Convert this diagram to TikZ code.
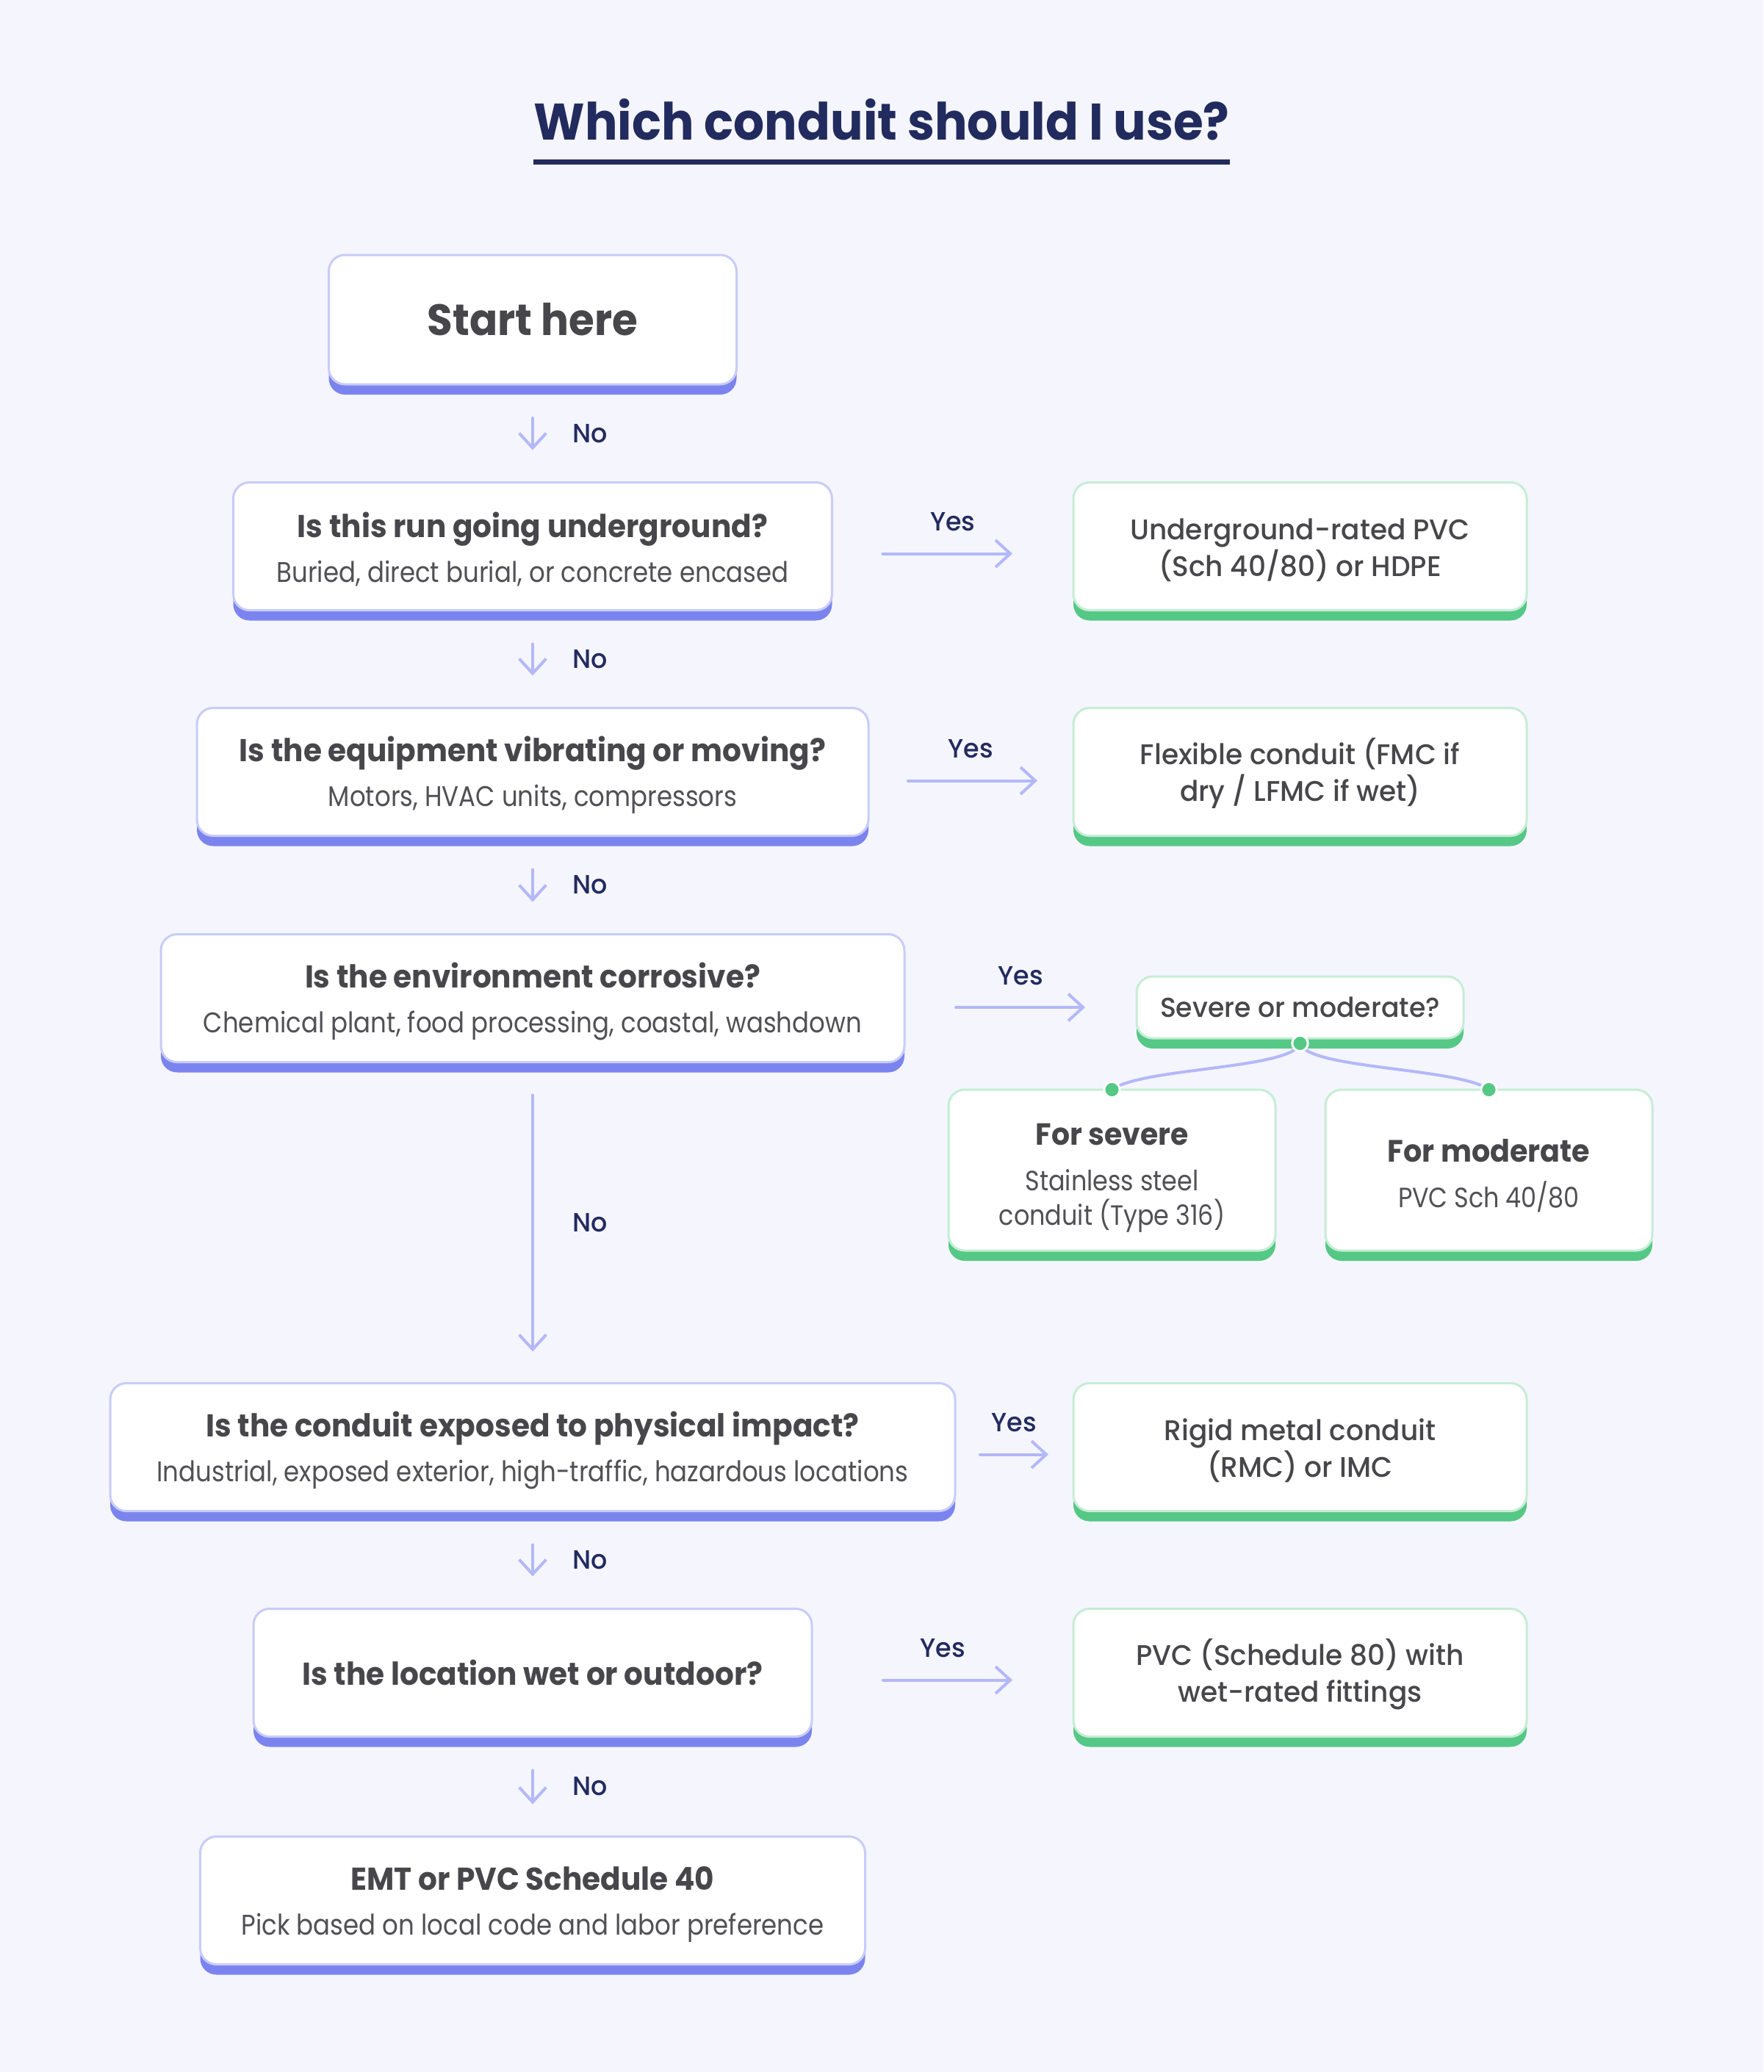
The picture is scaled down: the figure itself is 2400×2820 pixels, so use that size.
\documentclass[tikz,border=0pt]{standalone}
\usepackage{fontspec}
\setmainfont{Poppins}[FakeStretch=0.88, BoldFeatures={FakeStretch=0.945}]
\newfontfamily\medfont{Poppins}[UprightFont={* Medium}, FakeStretch=0.97]
\usetikzlibrary{arrows.meta,calc}
\definecolor{bg}{HTML}{F5F5FE}
\definecolor{qborder}{HTML}{C8CCF8}
\definecolor{qshadow}{HTML}{7B84EE}
\definecolor{rborder}{HTML}{C6EDD5}
\definecolor{rshadow}{HTML}{55C885}
\definecolor{arrowc}{HTML}{B3B8F8}
\definecolor{navy}{HTML}{222B5E}
\definecolor{ttext}{HTML}{47474B}
\definecolor{stext}{HTML}{505055}
\newcommand{\qq}[2]{{\rule{0pt}{13pt}\bfseries\fontsize{12.9}{18.3}\selectfont\color{ttext}#1}\\{\color{stext}#2}}
\begin{document}
\begin{tikzpicture}[x=0.3pt,y=-0.3pt,
  box/.style={rounded corners=6.6pt, fill=white, line width=0.9pt, outer sep=0pt, inner sep=0pt, align=center},
  qbox/.style={box, draw=qborder, preaction={fill=qshadow, transform canvas={yshift=-4.2pt}},
     font=\fontsize{11.6}{18.3}\selectfont, text=stext, minimum height=52.2pt},
  rbox/.style={box, draw=rborder, preaction={fill=rshadow, transform canvas={yshift=-4.2pt}},
     font=\medfont\fontsize{11.6}{15}\selectfont, text=ttext},
  resbox/.style={rbox, minimum width=185.1pt, minimum height=52.2pt},
  arr/.style={draw=arrowc, line width=1.2pt, line cap=round,
     -{Straight Barb[length=6pt,width=11pt,line width=1.2pt]}},
  conn/.style={draw=arrowc, line width=1.2pt},
  nolab/.style={font=\medfont\fontsize{10.8}{12}\selectfont, text=navy, inner sep=0pt},
  vno/.style={arr, shorten <=13.8pt, shorten >=13.2pt},
  dotc/.style={circle, fill=rshadow, draw=white, line width=0.9pt, minimum size=6.4pt, inner sep=0pt}
]
\fill[bg] (0,0) rectangle (2400,2820);
\useasboundingbox (0,0) rectangle (2400,2820);

% title
\node[font=\bfseries\fontsize{21}{26}\selectfont, text=navy, inner sep=0pt, anchor=base] (title) at (1200,190) {Which conduit should I use?};
\draw[navy, line width=2.1pt] ([yshift=-9pt]title.base west) -- ([yshift=-9pt]title.base east);

% left column
\node[qbox, minimum width=166.5pt, minimum height=52.8pt, font=\bfseries\fontsize{17.9}{20}\selectfont, text=ttext] (start) at (725,435) {Start here};
\node[qbox, minimum width=244.5pt] (q1) at (725,743.5) {\qq{Is this run going underground?}{Buried, direct burial, or concrete encased}};
\node[qbox, minimum width=274.2pt] (q2) at (725,1050.5) {\qq{Is the equipment vibrating or moving?}{Motors, HVAC units, compressors}};
\node[qbox, minimum width=303.6pt] (q3) at (725,1358.5) {\qq{Is the environment corrosive?}{Chemical plant, food processing, coastal, washdown}};
\node[qbox, minimum width=345pt] (q4) at (725,1969.5) {\qq{Is the conduit exposed to physical impact?}{Industrial, exposed exterior, high-traffic, hazardous locations}};
\node[qbox, minimum width=228pt, font=\bfseries\fontsize{12.9}{18.3}\selectfont, text=ttext] (q5) at (725,2276.5) {Is the location wet or outdoor?};
\node[qbox, minimum width=271.5pt] (q6) at (725,2586.5) {\qq{EMT or PVC Schedule 40}{Pick based on local code and labor preference}};

% results
\node[resbox] (r1) at (1769.5,743.5) {\rule{0pt}{12pt}Underground-rated PVC\\(Sch 40/80) or HDPE};
\node[resbox] (r2) at (1769.5,1050.5) {\rule{0pt}{12pt}Flexible conduit (FMC if\\dry / LFMC if wet)};
\node[resbox] (r3) at (1769.5,1969.5) {\rule{0pt}{12pt}Rigid metal conduit\\(RMC) or IMC};
\node[resbox] (r4) at (1769.5,2276.5) {\rule{0pt}{12pt}PVC (Schedule 80) with\\wet-rated fittings};

\node[rbox, minimum width=133.5pt, minimum height=25.2pt, font=\medfont\fontsize{11.2}{13}\selectfont] (sm) at (1769.5,1371) {Severe or moderate?};
\node[rbox, minimum width=133.5pt, minimum height=65.7pt, font=\fontsize{11.4}{14.1}\selectfont, text=stext] (cs) at (1513.5,1592.5) {{\rule{0pt}{15pt}\bfseries\fontsize{12.5}{14.1}\selectfont\color{ttext}For severe}\\[4.5pt]Stainless steel\\conduit (Type 316)};
\node[rbox, minimum width=133.5pt, minimum height=65.7pt, font=\fontsize{11.4}{14.1}\selectfont, text=stext] (cm) at (2026.5,1592.5) {{\rule{0pt}{14pt}\bfseries\fontsize{12.6}{14.1}\selectfont\color{ttext}For moderate}\\[4.5pt]PVC Sch 40/80};

% No arrows
\draw[vno] (start.south) -- node[nolab, midway, right=15.6pt] (n1) {No} (q1.north);
\draw[vno] (q1.south) -- node[nolab, midway, right=15.6pt] (n2) {No} (q2.north);
\draw[vno] (q2.south) -- node[nolab, midway, right=15.6pt] (n3) {No} (q3.north);
\draw[arr, shorten <=13.5pt, shorten >=12.9pt] (q3.south) -- node[nolab, midway, right=15.6pt] (n4) {No} (q4.north);
\draw[vno] (q4.south) -- node[nolab, midway, right=15.6pt] (n5) {No} (q5.north);
\draw[vno] (q5.south) -- node[nolab, midway, right=15.6pt] (n6) {No} (q6.north);

% Yes arrows
\draw[arr, shorten <=20.7pt, shorten >=24.9pt] ([yshift=-3pt]q1.east) -- node[nolab, midway, yshift=12.9pt] (y1) {Yes} ([yshift=-3pt]r1.west);
\draw[arr, shorten <=16.2pt, shorten >=14.7pt] ([yshift=-3.6pt]q2.east) -- node[nolab, midway, yshift=12.9pt] (y2) {Yes} ([yshift=-3.6pt]r2.west);
\draw[arr, shorten <=21pt, shorten >=21pt] (q3.east |- sm.west) -- node[nolab, midway, yshift=12.9pt] (y3) {Yes} (sm.west);
\draw[arr, shorten <=10.2pt, shorten >=10.2pt] ([yshift=-3pt]q4.east) -- node[nolab, midway, yshift=12.9pt] (y4) {Yes} ([yshift=-3pt]r3.west);
\draw[arr, shorten <=29.1pt, shorten >=24.9pt] ([yshift=-3pt]q5.east) -- node[nolab, midway, yshift=12.9pt] (y5) {Yes} ([yshift=-3pt]r4.west);

% branch connectors
\coordinate (smd) at ([yshift=-2.1pt]sm.south);
\coordinate (csd) at (cs.north);
\coordinate (cmd) at (cm.north);
\draw[conn] (smd) .. controls ($(smd)+(-10,35)$) and ($(csd)+(40,-30)$) .. (csd);
\draw[conn] (smd) .. controls ($(smd)+(10,35)$) and ($(cmd)+(-40,-30)$) .. (cmd);
\node[dotc] (d0) at (smd) {};
\node[dotc] (d1) at (csd) {};
\node[dotc] (d2) at (cmd) {};
\end{tikzpicture}
\end{document}
